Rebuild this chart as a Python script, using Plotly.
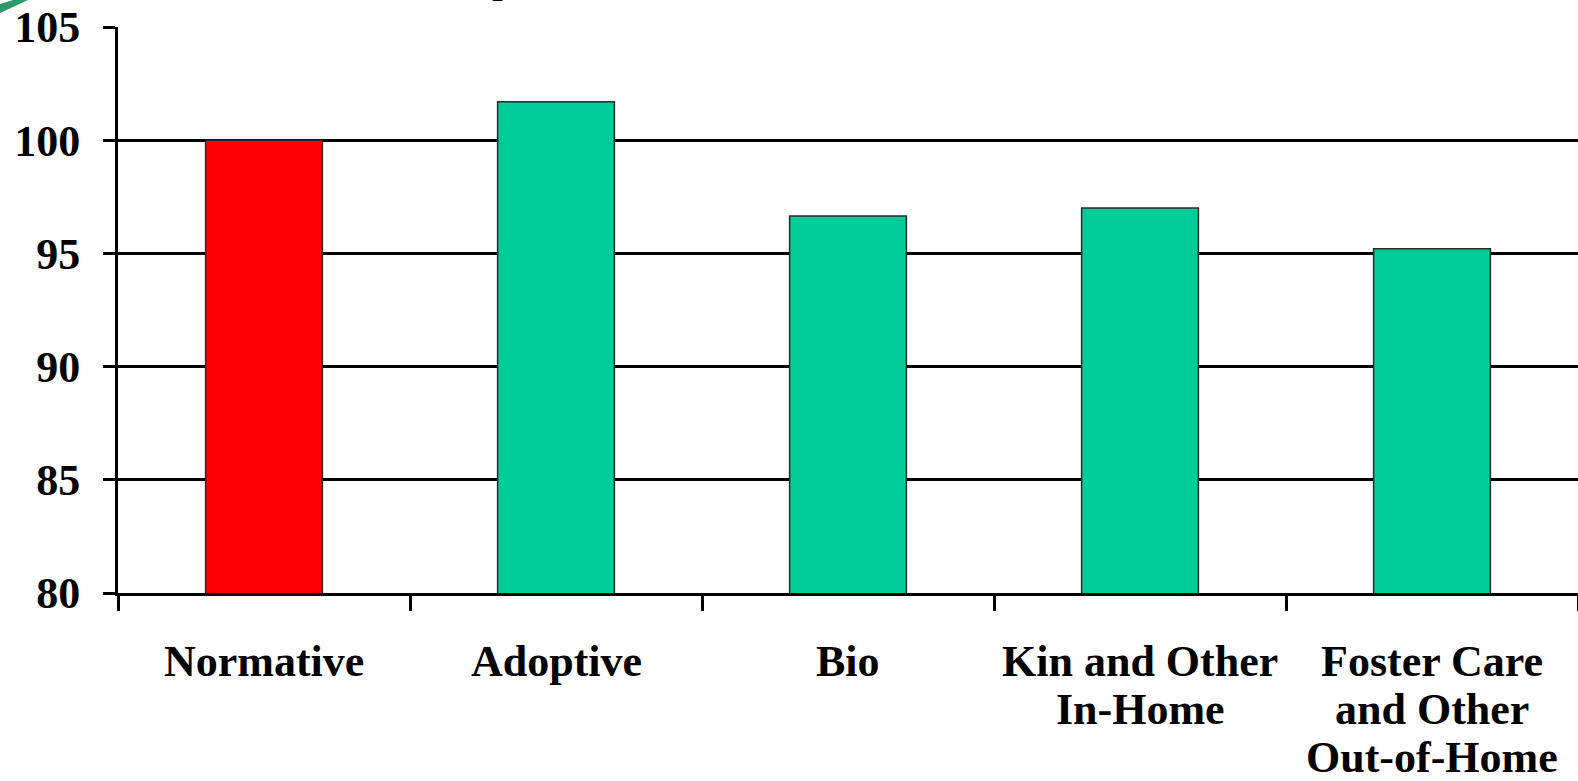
import plotly.graph_objects as go

# Group names and the lines each name is set on below the axis
categories = ["Normative", "Adoptive", "Bio", "Kin and Other In-Home",
              "Foster Care and Other Out-of-Home"]
label_lines = [["Normative"], ["Adoptive"], ["Bio"],
               ["Kin and Other", "In-Home"],
               ["Foster Care", "and Other", "Out-of-Home"]]
values = [100.0, 101.7, 96.65, 97.0, 95.2]
bar_colors = ["#FF0000", "#00CC99", "#00CC99", "#00CC99", "#00CC99"]
y_ticks = [80, 85, 90, 95, 100, 105]

W, H = 1578, 781
ML, MR, MT, MB = 118, 0, 27, 188
SERIF = "Liberation Serif"

fig = go.Figure(go.Bar(
    x=categories,
    y=values,
    width=0.4,
    marker=dict(color=bar_colors, line=dict(color="#2a2a2a", width=1.5)),
    hoverinfo="x+y",
))

# Category names, one annotation per line for tight line spacing
annotations = []
for cat, lines in zip(categories, label_lines):
    for j, line in enumerate(lines):
        annotations.append(dict(
            x=cat, xref="x", y=0, yref="paper",
            yanchor="middle", yshift=-(68 + 48 * j),
            text=line, showarrow=False,
            font=dict(family=SERIF, size=44, color="black", weight=700),
        ))

# Tail of the slide heading that sits above the chart
annotations.append(dict(
    x=(503 - ML) / (W - ML - MR), xref="paper",
    y=1 + (MT - 4) / (H - MT - MB), yref="paper",
    yanchor="bottom", xanchor="center",
    text="p", showarrow=False,
    font=dict(family=SERIF, size=44, color="black"),
))

fig.update_layout(
    width=W, height=H,
    margin=dict(l=ML, r=MR, t=MT, b=MB, pad=0),
    paper_bgcolor="white", plot_bgcolor="white",
    showlegend=False,
    bargap=0.6,
    annotations=annotations,
    shapes=[dict(
        type="path",
        xref="paper", yref="paper",
        xsizemode="pixel", ysizemode="pixel",
        xanchor=-ML / (W - ML - MR), yanchor=1 + MT / (H - MT - MB),
        path="M 0,-4 L 0,-13 L 28,0 L 13,0 Z",
        fillcolor="#2A9A6A", line=dict(width=0),
    )],
    xaxis=dict(
        type="category", range=[-0.5, 4.5],
        tickson="boundaries", ticks="outside", ticklen=15, tickwidth=3,
        tickcolor="black", showticklabels=False,
        showline=True, linecolor="black", linewidth=3,
        showgrid=False, zeroline=False,
    ),
    yaxis=dict(
        range=[80, 105], tickmode="array", tickvals=y_ticks,
        ticks="outside", ticklen=12, tickwidth=3, tickcolor="black",
        ticklabelstandoff=14,
        tickfont=dict(family=SERIF, size=44, color="black", weight=700),
        showline=True, linecolor="black", linewidth=3,
        showgrid=True, gridcolor="black", gridwidth=3,
        zeroline=False,
    ),
)

fig.write_html("out.html")
